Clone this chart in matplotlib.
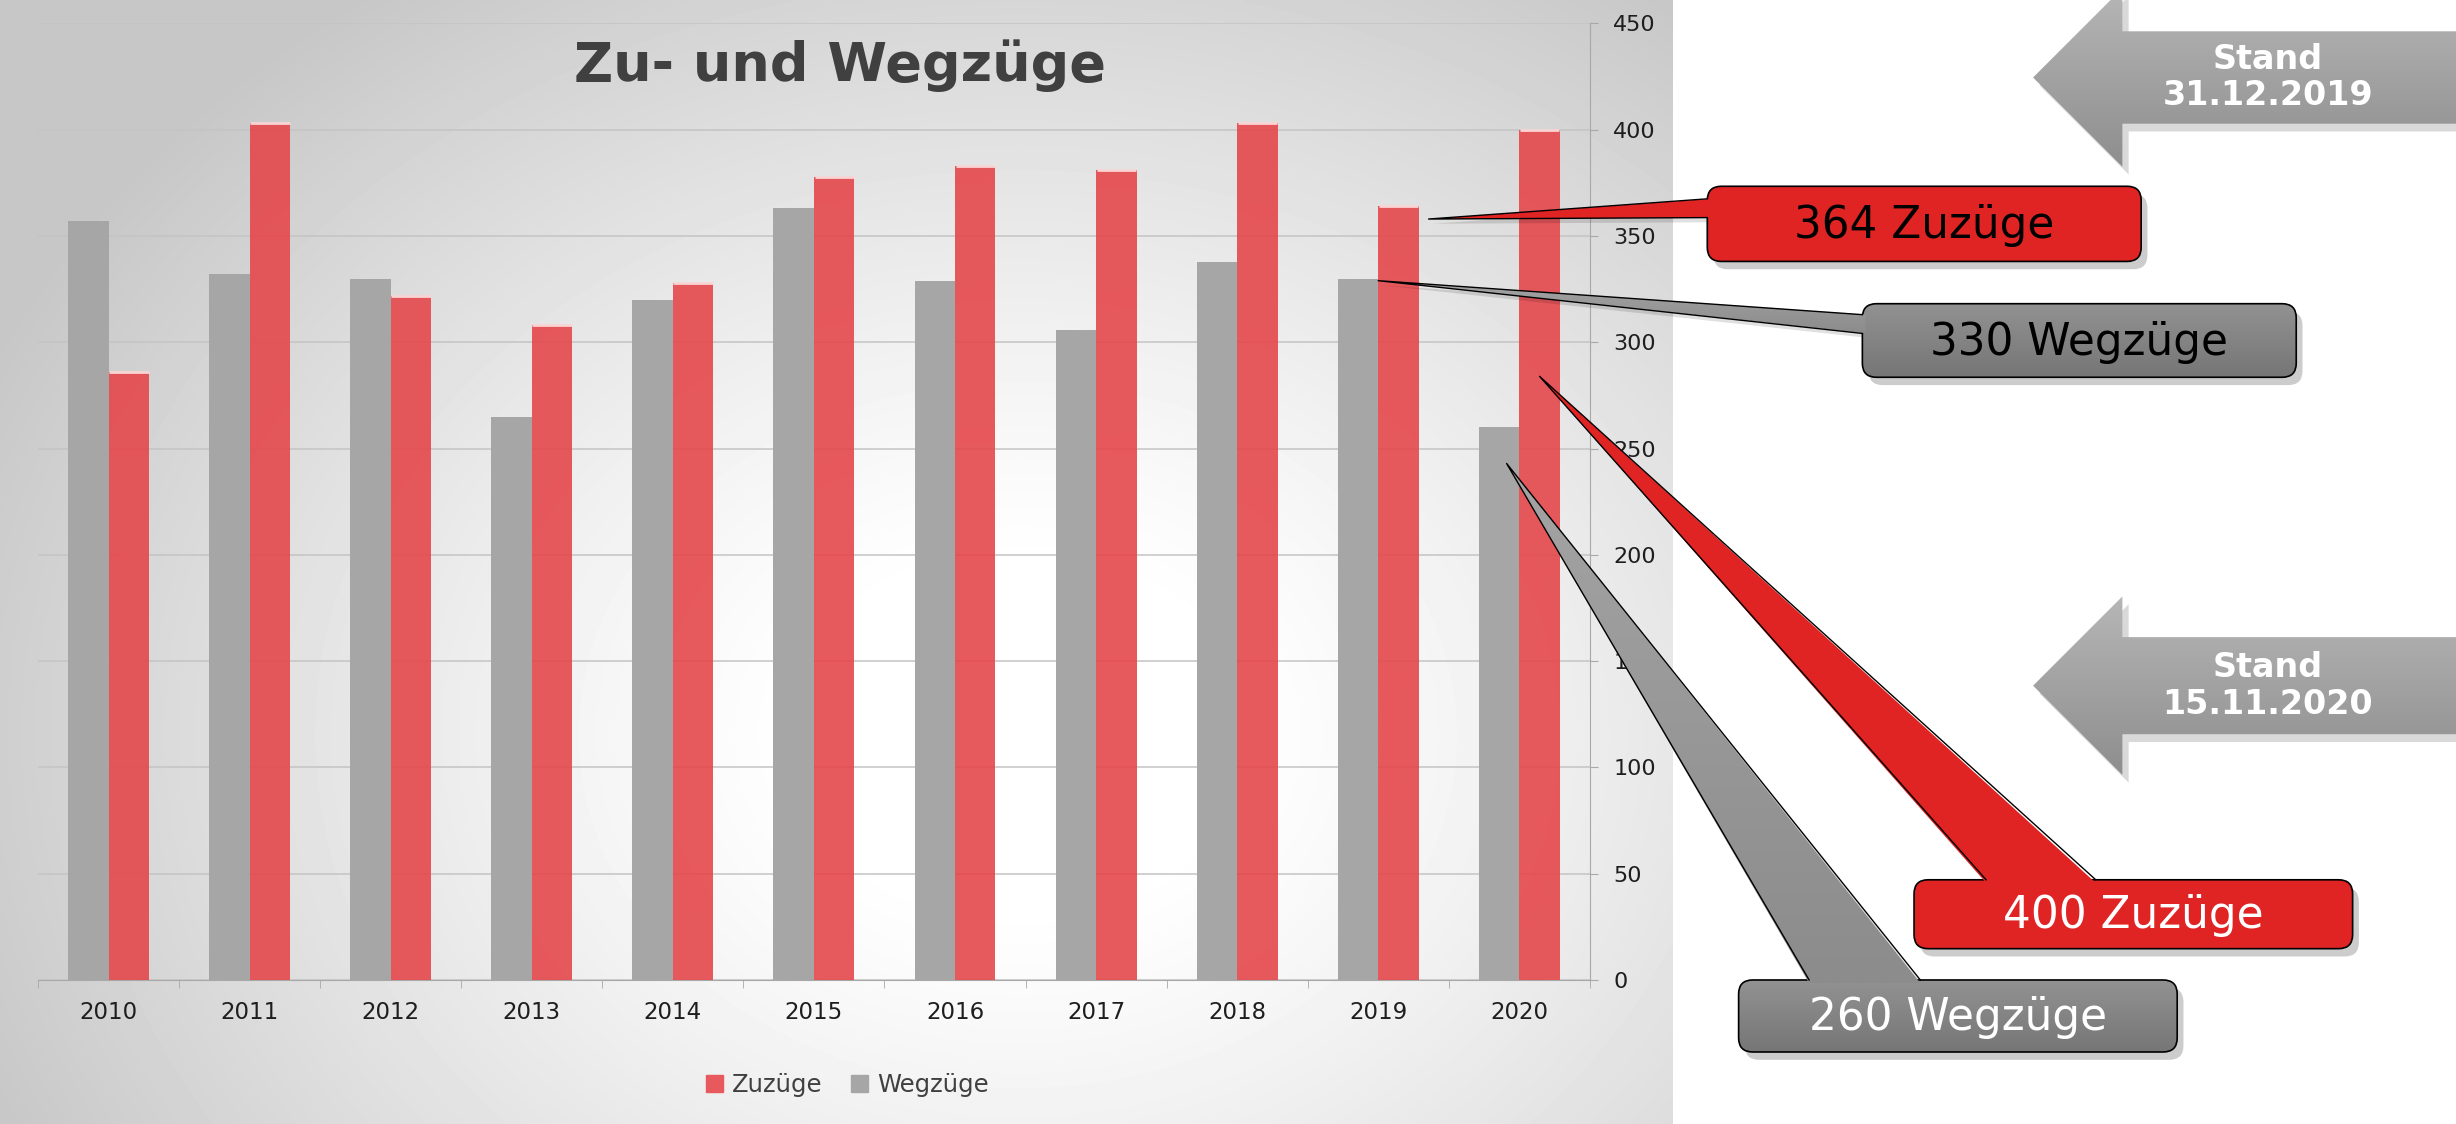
#!/usr/bin/env python3
import numpy as np
import matplotlib
matplotlib.use('Agg')
import matplotlib.pyplot as plt
import matplotlib.colors as mcolors
from matplotlib.patches import Polygon, FancyBboxPatch, Patch

# Data
years = ['2010', '2011', '2012', '2013', '2014', '2015', '2016', '2017', '2018', '2019', '2020']
zuzuege = [286, 403, 322, 308, 328, 378, 383, 381, 403, 364, 400]
wegzuege = [357, 332, 330, 265, 320, 363, 329, 306, 338, 330, 260]
y_ticks = [0, 50, 100, 150, 200, 250, 300, 350, 400, 450]
series_names = ['Zuzüge', 'Wegzüge']
title = 'Zu- und Wegzüge'
callout_labels = ['364 Zuzüge', '330 Wegzüge', '400 Zuzüge', '260 Wegzüge']
stand_labels = ['Stand\n31.12.2019', 'Stand\n15.11.2020']

RED = '#e4474b'
RED_SOLID = '#e7595d'
GREY = '#a6a6a6'
CALL_RED = '#e02424'

W, H = 2456, 1124
# layout was measured on a 1568x718 copy of the page, overlay works in those units
SW, SH = 1568, 718


def main():
    plt.rcParams['font.family'] = ['DejaVu Sans']
    fig = plt.figure(figsize=(W / 100, H / 100), dpi=100)

    # grey panel with soft radial light
    bg = fig.add_axes([0, 0, 1068 / SW, 1])
    gx, gy = np.meshgrid(np.linspace(0, 1068, 400), np.linspace(0, SH, 300))
    d = np.sqrt(((gx - 650) / 720) ** 2 + ((gy - 470) / 580) ** 2)
    shade = 1 - 0.22 * np.clip((d - 0.18) / 0.82, 0, 1) ** 1.2
    bg.imshow(shade, cmap='gray', vmin=0, vmax=1, extent=(0, 1068, SH, 0),
              aspect='auto', interpolation='bilinear')
    bg.set_axis_off()

    # bar chart
    ax = fig.add_axes([24.3 / SW, 1 - 626 / SH, (1015 - 24.3) / SW, (626 - 15) / SH])
    ax.patch.set_alpha(0)
    x = np.arange(len(years))
    w = 0.287
    ax.bar(x - w, wegzuege, w, align='edge', color=GREY, zorder=2)
    ax.bar(x, zuzuege, w, align='edge', color=RED, alpha=0.9, zorder=3)
    ax.hlines(zuzuege, x + 0.004, x + w - 0.004, color='#f9d4d4', lw=2, zorder=4)
    ax.set_xlim(-0.5, len(years) - 0.5)
    ax.set_ylim(0, 450)
    ax.set_yticks(y_ticks)
    ax.yaxis.tick_right()
    ax.yaxis.grid(True, color='#c4c4c4', lw=1.1)
    ax.set_axisbelow(True)
    for s in ('top', 'left'):
        ax.spines[s].set_visible(False)
    ax.spines['right'].set_color('#a8a8a8')
    ax.spines['bottom'].set_color('#a8a8a8')
    ax.tick_params(axis='y', length=6, color='#a8a8a8', pad=11, labelsize=16, labelcolor='#1e1e1e')
    ax.set_xticks(x, years)
    ax.set_xticks(np.arange(-0.5, len(years)), minor=True)
    ax.tick_params(axis='x', which='major', length=0, pad=15, labelsize=16.5, labelcolor='#1e1e1e')
    ax.tick_params(axis='x', which='minor', length=6, color='#a8a8a8')

    fig.text(536 / SW, 1 - 51.5 / SH, title, ha='center', va='baseline',
             fontsize=39, fontweight='bold', color='#404040')

    handles = [Patch(color=RED_SOLID), Patch(color=GREY)]
    fig.legend(handles, series_names, loc='center', bbox_to_anchor=(541 / SW, 1 - 692.8 / SH),
               ncol=2, frameon=False, fontsize=17.5, handlelength=0.7, handleheight=0.7,
               handletextpad=0.35, columnspacing=1.2, labelcolor='#404040')

    # overlay for callouts and arrows
    ov = fig.add_axes([0, 0, 1, 1])
    ov.set_xlim(0, SW)
    ov.set_ylim(SH, 0)
    ov.set_autoscale_on(False)
    ov.set_axis_off()
    ov.patch.set_alpha(0)

    def on_overlay(xd, yd):
        return ov.transData.inverted().transform(ax.transData.transform((xd, yd)))

    def grad_fill(patch, extent, top, bottom, z):
        patch.set_facecolor('none')
        patch.set_edgecolor('none')
        patch.set_zorder(z)
        ov.add_patch(patch)
        c0 = np.array(mcolors.to_rgb(top))
        c1 = np.array(mcolors.to_rgb(bottom))
        ramp = np.linspace(0, 1, 64)[:, None, None]
        img = c0 + (c1 - c0) * ramp
        im = ov.imshow(img, extent=extent, aspect='auto', interpolation='bilinear', zorder=z)
        im.set_clip_path(patch)

    # Stand arrows: (tip y, head half height, shaft half height)
    arrows = [(49.5, 57, 29.5), (438, 57, 31)]
    for (ty, hh, sh), lab in zip(arrows, stand_labels):
        pts = [(1298, ty), (1355, ty - hh), (1355, ty - sh), (SW + 5, ty - sh),
               (SW + 5, ty + sh), (1355, ty + sh), (1355, ty + hh)]
        shadow = Polygon([(px + 4, py + 5) for px, py in pts], closed=True,
                         facecolor='black', alpha=0.15, edgecolor='none', zorder=1)
        ov.add_patch(shadow)
        grad_fill(Polygon(pts, closed=True), (1298, SW + 5, ty + hh, ty - hh),
                  '#b6b6b6', '#8e8e8e', 2)
        ov.text(1448, ty, lab, ha='center', va='center', color='white',
                fontsize=24, fontweight='bold', linespacing=1.15, zorder=3)

    # callouts: text, box (x0, y0, x1, y1), wedge base, tip in data coords, fill, text colour
    callouts = [
        (callout_labels[0], (1090, 119, 1367, 167), [(1090, 127), (1090, 139)],
         (x[9] + w + 0.07, zuzuege[9] - 6), 'red', 'black'),
        (callout_labels[1], (1189, 194, 1466, 241), [(1189, 201), (1189, 213)],
         (x[9], wegzuege[9] - 1), 'grey', 'black'),
        (callout_labels[2], (1222, 562, 1502, 606), [(1268, 562), (1338, 562)],
         (x[10] + w / 2, zuzuege[10] - 116), 'red', 'white'),
        (callout_labels[3], (1110, 626, 1390, 672), [(1155, 626), (1226, 626)],
         (x[10] - 0.09, wegzuege[10] - 17), 'grey', 'white'),
    ]
    for i, (lab, (x0, y0, x1, y1), base, tip, kind, tc) in enumerate(callouts):
        z = 10 + i * 5
        tx, ty = on_overlay(*tip)
        (b1x, b1y), (b2x, b2y) = base
        # nudge base slightly into the box so the box outline is hidden there
        if b1x == b2x:
            inner = [(b1x + 2, b1y), (b2x + 2, b2y)]
        else:
            inner = [(b1x, b1y + 2), (b2x, b2y + 2)]
        wedge_pts = [inner[0], (tx, ty), inner[1]]
        box_kw = dict(boxstyle='round,pad=0,rounding_size=9')
        ov.add_patch(FancyBboxPatch((x0 + 4, y0 + 5), x1 - x0, y1 - y0, facecolor='black',
                                    alpha=0.2, edgecolor='none', zorder=z, **box_kw))
        ov.add_patch(Polygon([(px + 3, py + 3) for px, py in wedge_pts], closed=True,
                             facecolor='black', alpha=0.12, edgecolor='none', zorder=z))
        if kind == 'red':
            ov.add_patch(FancyBboxPatch((x0, y0), x1 - x0, y1 - y0, facecolor=CALL_RED,
                                        edgecolor='black', lw=1.2, zorder=z + 1, **box_kw))
            ov.add_patch(Polygon(wedge_pts, closed=True, facecolor=CALL_RED,
                                 edgecolor='none', zorder=z + 2))
        else:
            grad_fill(FancyBboxPatch((x0, y0), x1 - x0, y1 - y0, **box_kw),
                      (x0, x1, y1, y0), '#929292', '#767676', z + 1)
            ov.add_patch(FancyBboxPatch((x0, y0), x1 - x0, y1 - y0, facecolor='none',
                                        edgecolor='black', lw=1.2, zorder=z + 1, **box_kw))
            ys = [p[1] for p in wedge_pts]
            grad_fill(Polygon(wedge_pts, closed=True),
                      (min(p[0] for p in wedge_pts), max(p[0] for p in wedge_pts), max(ys), min(ys)),
                      '#a4a4a4', '#8c8c8c', z + 2)
        ov.plot([b1x, tx, b2x], [b1y, ty, b2y], color='black', lw=1.0, zorder=z + 3)
        ov.text((x0 + x1) / 2, (y0 + y1) / 2 + 1, lab, ha='center', va='center',
                color=tc, fontsize=31.5, zorder=z + 4)

    fig.savefig('out.png', dpi=100)
    print('saved out.png')


if __name__ == '__main__':
    main()
